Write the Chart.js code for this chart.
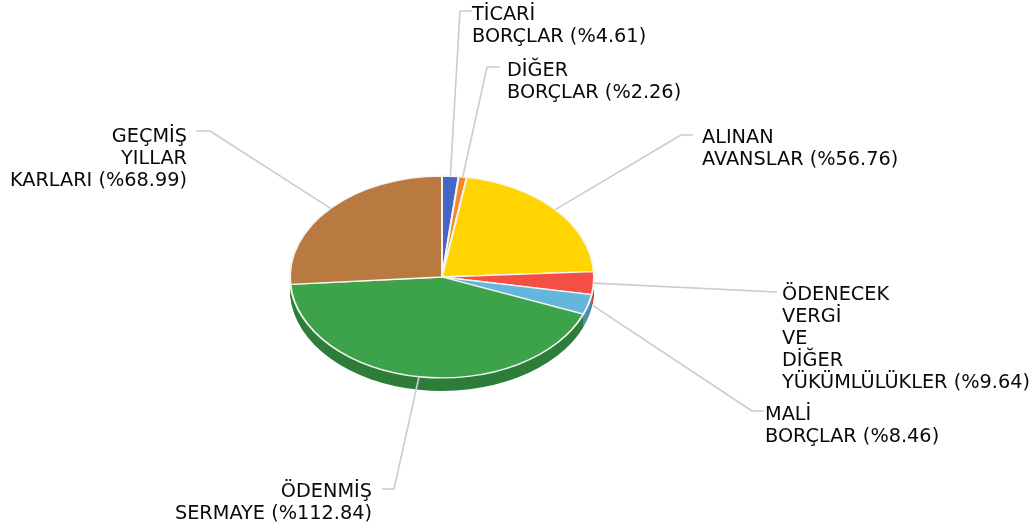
<!DOCTYPE html>
<html><head><meta charset="utf-8">
<style>html,body{margin:0;padding:0;background:#fff}canvas{display:block}</style>
<script src="https://cdn.jsdelivr.net/npm/chart.js@4"></script>
</head><body><canvas id="c" width="1033" height="531"></canvas>
<script>
const categories = [
  ["TİCARİ","BORÇLAR"],
  ["DİĞER","BORÇLAR"],
  ["ALINAN","AVANSLAR"],
  ["ÖDENECEK","VERGİ","VE","DİĞER","YÜKÜMLÜLÜKLER"],
  ["MALİ","BORÇLAR"],
  ["ÖDENMİŞ","SERMAYE"],
  ["GEÇMİŞ","YILLAR","KARLARI"]
];
const values = ["4.61","2.26","56.76","9.64","8.46","112.84","68.99"].map(Number);
const colors = ["#4466c6","#f6862c","#ffd400","#f44f45","#65b6dd","#3ca34a","#b87a40"];
const wallColors = ["#3a57a8","#d17225","#d9b400","#c23e37","#4f8fae","#2e7d3a","#9c6836"];

// label layout: elbow point, end of the connector, text anchor, first baseline
const layout = [
  {elbow:[460,11], end:[472,11], tx:472, ty:20, align:"left"},
  {elbow:[487,67], end:[500,67], tx:507, ty:76, align:"left"},
  {elbow:[681,135],end:[693,135],tx:702, ty:143,align:"left"},
  {elbow:[776,292],end:[777,292],tx:782, ty:300,align:"left"},
  {elbow:[752,411],end:[764,411],tx:765, ty:420,align:"left", startR:1.03},
  {elbow:[394,489],end:[382,489],tx:372, ty:497,align:"right"},
  {elbow:[210,131],end:[196,131],tx:187, ty:142,align:"right"}
];
const tiltY = 0.664, depth = 13, lineH = 22;

const pie3d = {
  id:"pie3d",
  beforeDatasetsDraw(chart){
    const ctx = chart.ctx, arcs = chart.getDatasetMeta(0).data;
    const cy = arcs[0].y;
    for(let d = depth; d >= 1; d--){
      arcs.forEach((a,i)=>{
        const o = a.options;
        a.options = Object.assign({},o,{backgroundColor:wallColors[i],borderWidth:0});
        ctx.save();
        ctx.translate(0,cy+d); ctx.scale(1,tiltY); ctx.translate(0,-cy);
        a.draw(ctx);
        ctx.restore();
        a.options = o;
      });
    }
    ctx.save();
    ctx.translate(0,cy); ctx.scale(1,tiltY); ctx.translate(0,-cy);
  },
  afterDatasetsDraw(chart){
    const ctx = chart.ctx;
    ctx.restore();
    const arcs = chart.getDatasetMeta(0).data;
    arcs.forEach((a,i)=>{
      const L = layout[i], mid = (a.startAngle+a.endAngle)/2, R = a.outerRadius*(L.startR||1);
      ctx.beginPath();
      ctx.moveTo(a.x+R*Math.cos(mid), a.y+R*Math.sin(mid)*tiltY);
      ctx.lineTo(L.elbow[0],L.elbow[1]);
      ctx.lineTo(L.end[0],L.end[1]);
      ctx.strokeStyle="#cccccc"; ctx.lineWidth=1.6; ctx.lineJoin="round"; ctx.stroke();
      ctx.fillStyle="#0a0a0a"; ctx.font='19.3px "DejaVu Sans"'; ctx.textAlign=L.align; ctx.textBaseline="alphabetic";
      categories[i].forEach((t,j)=>{
        const s = j===categories[i].length-1 ? t+" (%"+values[i].toFixed(2)+")" : t;
        ctx.fillText(s,L.tx,L.ty+j*lineH);
      });
    });
  }
};

new Chart(document.getElementById("c"),{
  type:"pie",
  data:{labels:categories.map(c=>c.join(" ")),datasets:[{data:values,backgroundColor:colors,borderColor:"#f4f4f0",borderWidth:2,clip:false}]},
  options:{responsive:false,animation:false,
    layout:{padding:{left:289,right:438,top:124,bottom:101}},
    plugins:{legend:{display:false},tooltip:{enabled:false},title:{display:false}}},
  plugins:[pie3d]
});
</script></body></html>
